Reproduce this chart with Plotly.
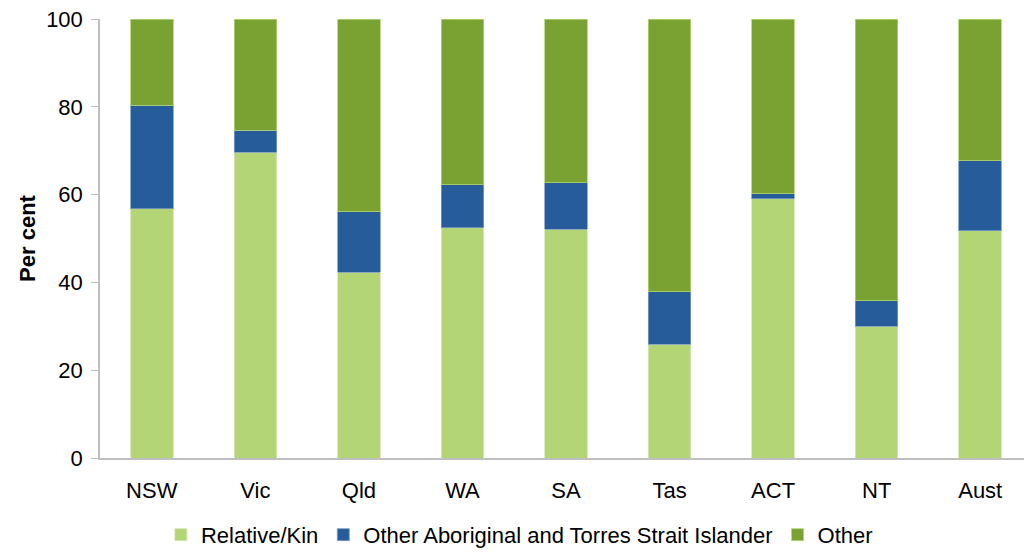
import plotly.graph_objects as go

states = ['NSW', 'Vic', 'Qld', 'WA', 'SA', 'Tas', 'ACT', 'NT', 'Aust']
relative_kin = [56.8, 69.6, 42.3, 52.4, 52.1, 25.9, 59.0, 30.0, 51.8]
other_indigenous = [23.6, 5.1, 13.8, 9.9, 10.6, 12.0, 1.2, 5.8, 15.9]
other = [19.6, 25.3, 43.9, 37.7, 37.3, 62.1, 39.8, 64.2, 32.3]

font = 'Liberation Sans, Arial, sans-serif'

fig = go.Figure()
fig.add_trace(go.Bar(x=states, y=relative_kin, name='Relative/Kin',
                     marker=dict(color='#B3D575', line=dict(color='#D6E9B4', width=0.8))))
fig.add_trace(go.Bar(x=states, y=other_indigenous, name='Other Aboriginal and Torres Strait Islander',
                     marker=dict(color='#265C9A', line=dict(color='#7A9CC4', width=0.8))))
fig.add_trace(go.Bar(x=states, y=other, name='Other',
                     marker=dict(color='#7AA232', line=dict(color='#B3D575', width=0.8))))

# page body has an 8px margin, so offsets are compensated here
fig.update_layout(
    barmode='stack',
    bargap=0.59,
    width=1032, height=555,
    margin=dict(l=92, r=8, t=11, b=105, autoexpand=False),
    plot_bgcolor='white', paper_bgcolor='white',
    font=dict(family=font, size=22, color='black'),
    legend=dict(orientation='h', x=0.45, xanchor='center', y=-0.175, yanchor='middle',
                font=dict(size=22), traceorder='normal', itemwidth=30, tracegroupgap=0),
    showlegend=True,
)
fig.update_xaxes(showline=True, linecolor='#BFBFBF', linewidth=1.5, ticks='',
                 tickfont=dict(size=22), ticklabelstandoff=12, automargin=False)
fig.update_yaxes(range=[0, 100], dtick=20, showgrid=False, showline=True,
                 linecolor='#BFBFBF', linewidth=1.5, ticks='outside', ticklen=7,
                 tickcolor='#BFBFBF', tickfont=dict(size=22), zeroline=False,
                 ticklabelstandoff=4, ticklabeloverflow='allow', automargin=False,
                 title=dict(text='<b>Per cent</b>', font=dict(size=22), standoff=4))

fig.write_html('out.html')
